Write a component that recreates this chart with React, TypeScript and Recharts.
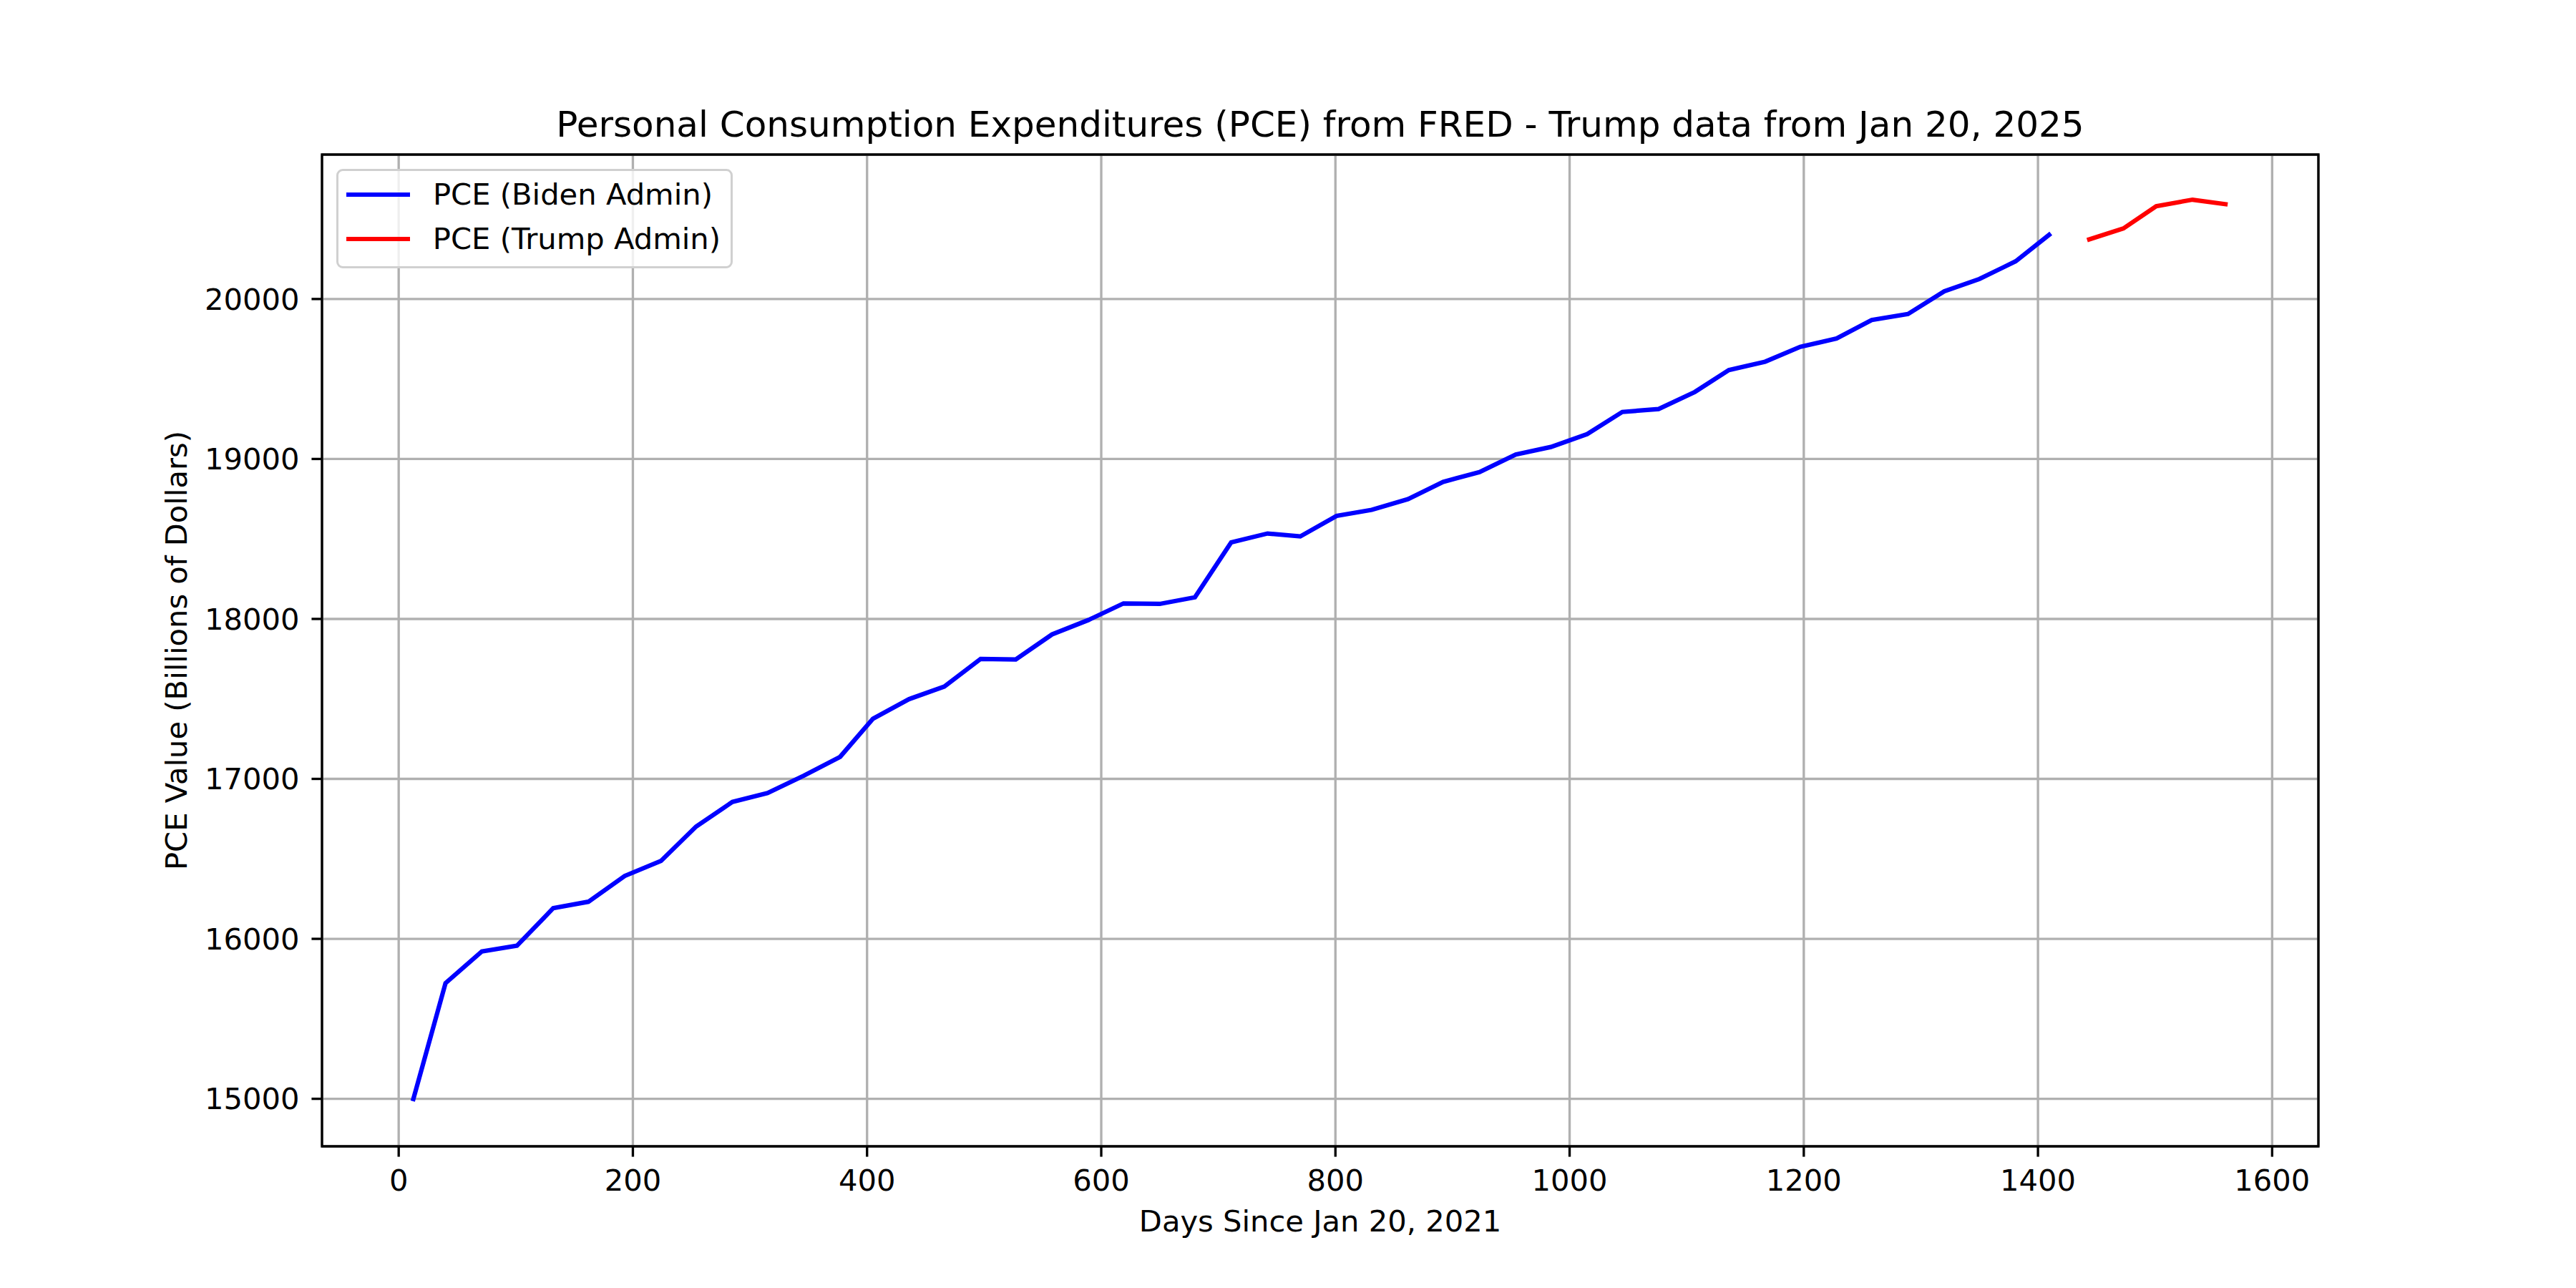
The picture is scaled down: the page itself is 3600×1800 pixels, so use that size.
import React from 'react'
import { CartesianGrid, Label, Legend, Line, LineChart, ReferenceArea, XAxis, YAxis } from 'recharts'

// days since Jan 20, 2021 (first of each month)
const BIDEN_DAYS = [
  12, 40, 71, 101, 132, 162, 193, 224, 254, 285,
  315, 346, 377, 405, 436, 466, 497, 527, 558, 589,
  619, 650, 680, 711, 742, 770, 801, 831, 862, 892,
  923, 954, 984, 1015, 1045, 1076, 1107, 1136, 1167, 1197,
  1228, 1258, 1289, 1320, 1350, 1381, 1411,
]
const BIDEN_PCE = [
  14985, 15723, 15921, 15957, 16192, 16232, 16393, 16487, 16702, 16856,
  16911, 17020, 17138, 17376, 17499, 17577, 17750, 17747, 17903, 17993,
  18097, 18094, 18135, 18479, 18534, 18516, 18644, 18682, 18749, 18857,
  18918, 19028, 19075, 19155, 19294, 19312, 19419, 19556, 19608, 19701,
  19753, 19869, 19906, 20048, 20125, 20236, 20410,
]
const TRUMP_DAYS = [1442, 1473, 1501, 1532, 1562]
const TRUMP_PCE = [20368, 20441, 20580, 20621, 20591]

const X_TICKS = [0, 200, 400, 600, 800, 1000, 1200, 1400, 1600]
const Y_TICKS = [15000, 16000, 17000, 18000, 19000, 20000]
const X_DOMAIN: [number, number] = [-65.5, 1639.5]
const Y_DOMAIN: [number, number] = [14703, 20903]

const SERIES = [
  { name: 'PCE (Biden Admin)', color: '#0000ff' },
  { name: 'PCE (Trump Admin)', color: '#ff0000' },
]

const biden = BIDEN_DAYS.map((day, i) => ({ day, pce: BIDEN_PCE[i] }))
const trump = TRUMP_DAYS.map((day, i) => ({ day, pce: TRUMP_PCE[i] }))

const FONT = '"DejaVu Sans", sans-serif'
const FS = 41.67
const PT = 300 / 72
const tick = { fill: '#000', fontSize: FS, fontFamily: FONT }
const tickLine = { stroke: '#000', strokeWidth: 0.8 * PT }

function LegendBox() {
  return (
    <div
      style={{
        boxSizing: 'border-box',
        width: 554,
        height: 139,
        padding: '12px 14px 0 11px',
        border: `${0.8 * PT}px solid #d0d0d0`,
        borderRadius: 9,
        background: 'rgba(255,255,255,0.8)',
        fontFamily: FONT,
        fontSize: FS,
        color: '#000',
      }}
    >
      {SERIES.map((s, i) => (
        <div key={s.name} style={{ display: 'flex', alignItems: 'center', height: 42, marginTop: i ? 20 : 0 }}>
          <span style={{ width: 89, height: 1.5 * PT, background: s.color, marginRight: 32 }} />
          <span style={{ whiteSpace: 'nowrap', lineHeight: '42px' }}>{s.name}</span>
        </div>
      ))}
    </div>
  )
}

export default function App() {
  return (
    <div style={{ position: 'absolute', left: 0, top: 0, width: 3600, height: 1800, background: '#fff', fontFamily: FONT }}>
      <div
        style={{
          position: 'absolute',
          left: 450,
          width: 2790,
          top: 149,
          textAlign: 'center',
          fontSize: 50,
          lineHeight: '50px',
          whiteSpace: 'nowrap',
        }}
      >
        Personal Consumption Expenditures (PCE) from FRED - Trump data from Jan 20, 2025
      </div>
      <LineChart width={3600} height={1800} margin={{ top: 216, right: 360, bottom: 0, left: 0 }}>
        <CartesianGrid stroke="#b0b0b0" strokeWidth={0.8 * PT} />
        <XAxis
          type="number"
          dataKey="day"
          domain={X_DOMAIN}
          ticks={X_TICKS}
          allowDataOverflow
          height={198}
          tick={tick}
          tickLine={tickLine}
          tickSize={3.5 * PT}
          tickMargin={18}
          axisLine={false}
        >
          <Label
            content={({ viewBox }: any) => (
              <text x={viewBox.x + viewBox.width / 2} y={1721} textAnchor="middle" fontSize={FS} fontFamily={FONT} fill="#000">
                Days Since Jan 20, 2021
              </text>
            )}
          />
        </XAxis>
        <YAxis
          type="number"
          domain={Y_DOMAIN}
          ticks={Y_TICKS}
          allowDataOverflow
          width={450}
          tick={tick}
          tickLine={tickLine}
          tickSize={3.5 * PT}
          tickMargin={17}
          axisLine={false}
        >
          <Label
            content={({ viewBox }: any) => {
              const cy = viewBox.y + viewBox.height / 2
              return (
                <text x={261} y={cy} transform={`rotate(-90 261 ${cy})`} textAnchor="middle" fontSize={FS} fontFamily={FONT} fill="#000">
                  PCE Value (Billions of Dollars)
                </text>
              )
            }}
          />
        </YAxis>
        <Line data={biden} dataKey="pce" name={SERIES[0].name} stroke={SERIES[0].color} strokeWidth={1.5 * PT} dot={false} activeDot={false} isAnimationActive={false} />
        <Line data={trump} dataKey="pce" name={SERIES[1].name} stroke={SERIES[1].color} strokeWidth={1.5 * PT} dot={false} activeDot={false} isAnimationActive={false} />
        <ReferenceArea x1={X_DOMAIN[0]} x2={X_DOMAIN[1]} y1={Y_DOMAIN[0]} y2={Y_DOMAIN[1]} fill="none" stroke="#000" strokeWidth={0.8 * PT} fillOpacity={0} ifOverflow="visible" />
        <Legend
          layout="vertical"
          align="center"
          verticalAlign="middle"
          content={() => <LegendBox />}
          wrapperStyle={{ left: 470, top: 236, width: 554, height: 139 }}
        />
      </LineChart>
    </div>
  )
}
